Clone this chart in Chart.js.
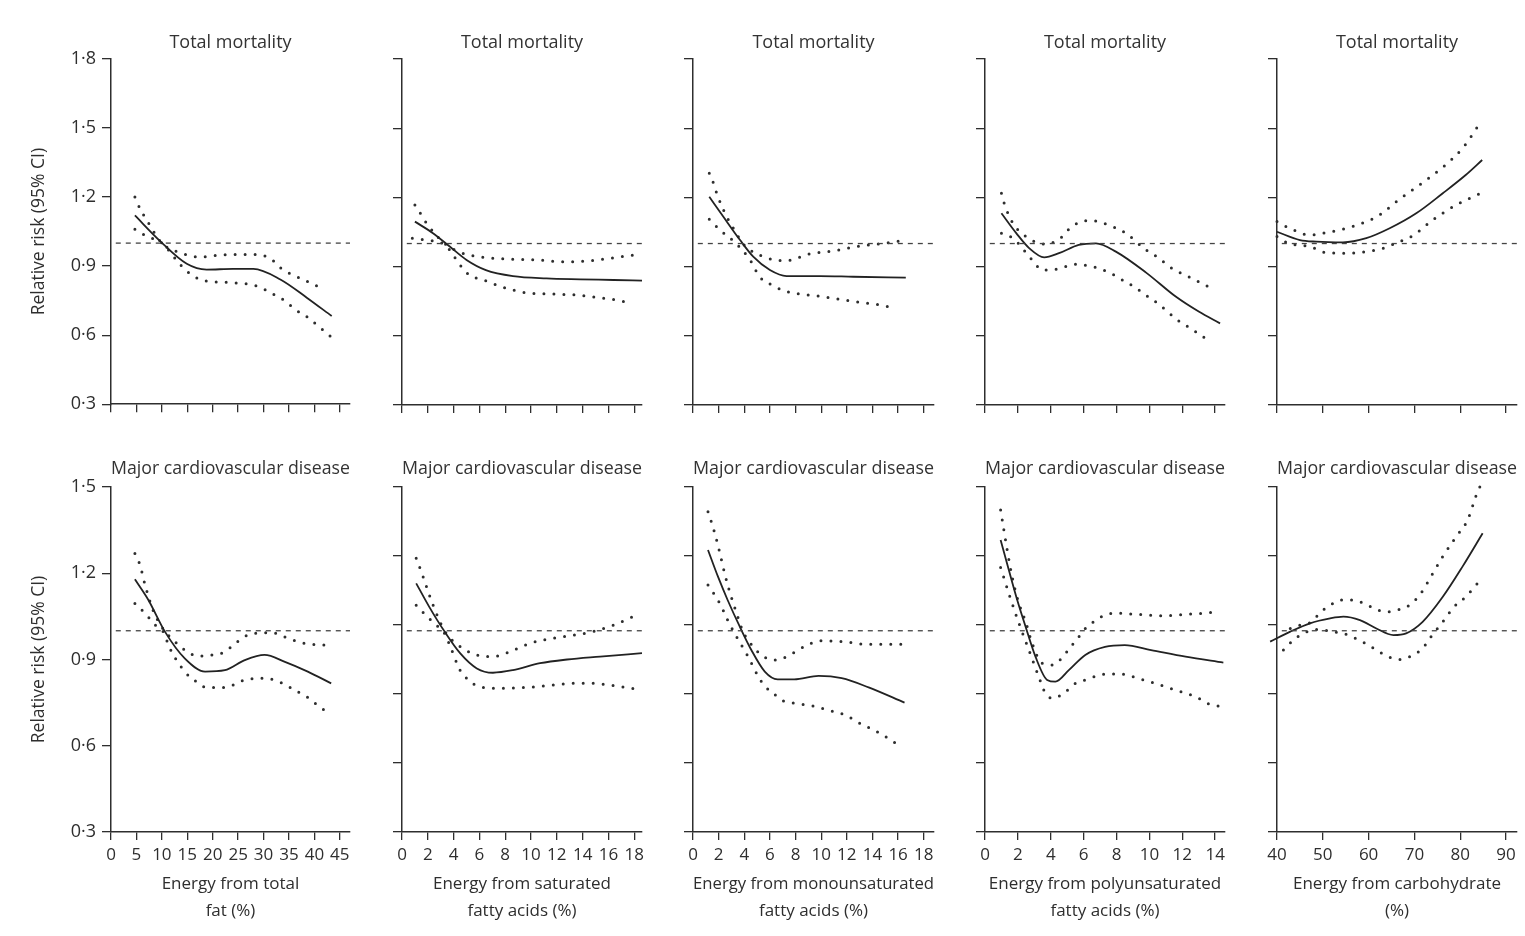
<!DOCTYPE html>
<html>
<head>
<meta charset="utf-8">
<title>Relative risk by energy source</title>
<script src="https://cdn.jsdelivr.net/npm/chart.js@4.4.1/dist/chart.umd.min.js"></script>
<style>
  body { margin: 0; background: #fff; width: 1525px; height: 936px; overflow: hidden; position: relative; }
  .panel { position: absolute; }
</style>
</head>
<body>
<script>
// ---- data: [energy %, relative risk] ----

const rowTitles = ["Total mortality", "Major cardiovascular disease"];
const yTitle = "Relative risk (95% CI)";
const refValue = 1.0;

// total fat
const fatMortRR = [[4.7,1.12],[9.6,1.01],[14.9,0.91],[18.8,0.885],[24,0.888],[28,0.888],[33.3,0.842],[38.5,0.763],[43.4,0.683]];
const fatMortHi = [[4.7,1.2],[5.7,1.15],[7.3,1.09],[10,1.0],[13.6,0.958],[17.5,0.94],[22.8,0.95],[28.7,0.95],[31.6,0.929],[33.3,0.893],[35.5,0.864],[37.8,0.842],[42.1,0.796]];
const fatMortLo = [[4.7,1.06],[7,1.03],[10,1.0],[13.9,0.9],[16.2,0.857],[18.8,0.835],[24,0.828],[28.7,0.813],[32,0.777],[34.3,0.748],[36.2,0.712],[38.8,0.676],[41.1,0.633],[43.1,0.596]];
const fatCvdRR = [[4.7,1.179],[7.35,1.107],[10.6,0.997],[14.5,0.904],[18.5,0.858],[22.4,0.863],[26.3,0.898],[30.2,0.916],[34.2,0.892],[38.7,0.858],[43.3,0.817]];
const fatCvdHi = [[4.7,1.269],[5.7,1.229],[6.7,1.159],[8.3,1.07],[10.5,1.0],[11.9,0.974],[14.5,0.933],[17.2,0.912],[20,0.916],[22.4,0.927],[24.4,0.956],[27.6,0.989],[31.6,0.993],[34.8,0.974],[38.1,0.956],[42.4,0.95]];
const fatCvdLo = [[4.7,1.095],[6.7,1.061],[8.7,1.02],[10.5,0.99],[11.3,0.95],[14.5,0.858],[16.8,0.823],[18.8,0.803],[22.4,0.803],[26.3,0.829],[30.2,0.835],[33.5,0.819],[36.1,0.794],[38.7,0.768],[41,0.736],[43.3,0.707]];

// saturated fatty acids
const satMortRR = [[1,1.095],[2.4,1.045],[3.7,0.987],[5,0.929],[6.5,0.885],[8.6,0.859],[11.2,0.849],[13.8,0.845],[16.4,0.842],[18.6,0.839]];
const satMortHi = [[1,1.167],[1.5,1.124],[1.9,1.088],[3.3,1.0],[4.6,0.96],[6.3,0.94],[8.6,0.932],[10.7,0.928],[12.5,0.921],[14.3,0.924],[16.1,0.936],[17.9,0.95]];
const satMortLo = [[0.8,1.023],[1.9,1.015],[3.3,0.995],[4.6,0.9],[5.2,0.864],[6.3,0.842],[8.1,0.806],[9.6,0.787],[11.7,0.781],[13.5,0.777],[15.1,0.767],[16.9,0.752],[17.9,0.737]];
const satCvdRR = [[1.1,1.165],[2.1,1.084],[3.3,0.997],[4.5,0.922],[5.8,0.869],[7.05,0.854],[8.6,0.863],[10.7,0.887],[12.8,0.9],[15.35,0.91],[18.6,0.922]];
const satCvdHi = [[1.1,1.252],[1.5,1.205],[1.9,1.153],[2.4,1.09],[3.3,1.0],[4.7,0.939],[5.8,0.916],[6.5,0.91],[7.35,0.912],[8.35,0.927],[9.9,0.956],[11.7,0.974],[13.3,0.985],[14.8,0.997],[16.4,1.02],[17.9,1.049]];
const satCvdLo = [[1.1,1.089],[1.7,1.061],[2.5,1.026],[3.3,0.99],[3.7,0.95],[4.5,0.863],[5.1,0.831],[6,0.805],[7.6,0.8],[9.65,0.803],[11.7,0.811],[13.3,0.817],[14.8,0.817],[16.4,0.809],[18.3,0.796]];

// monounsaturated fatty acids
const monoMortRR = [[1.27,1.203],[2.37,1.116],[3.67,1.015],[4.7,0.943],[6,0.885],[7.3,0.859],[9.9,0.859],[12.5,0.856],[16.6,0.852]];
const monoMortHi = [[1.27,1.305],[1.6,1.261],[1.85,1.218],[2.5,1.131],[3,1.08],[3.9,1.0],[4.45,0.972],[5.5,0.943],[6.4,0.929],[7.3,0.926],[9.1,0.955],[11,0.968],[12.8,0.987],[14.4,0.998],[16.2,1.011]];
const monoMortLo = [[1.27,1.105],[2.1,1.059],[3.3,1.004],[4.45,0.929],[5.2,0.856],[6.15,0.82],[7.05,0.796],[7.97,0.784],[9.66,0.773],[11.5,0.758],[13.2,0.744],[14.9,0.731],[15.9,0.715]];
const monoCvdRR = [[1.17,1.281],[1.95,1.188],[2.7,1.107],[3.65,1.014],[4.55,0.933],[5.6,0.858],[6.6,0.831],[7.9,0.831],[9.8,0.843],[11.6,0.835],[13.7,0.803],[16.5,0.75]];
const monoCvdHi = [[1.17,1.414],[1.43,1.379],[1.7,1.339],[2.1,1.269],[2.5,1.194],[2.9,1.13],[3.4,1.061],[3.9,0.997],[4.7,0.944],[5.5,0.91],[6.4,0.898],[7.3,0.91],[8.2,0.933],[9.1,0.954],[10,0.965],[11.85,0.962],[13.4,0.953],[15.1,0.953],[16.3,0.953]];
const monoCvdLo = [[1.17,1.159],[1.7,1.124],[2.2,1.086],[2.7,1.037],[3.4,0.979],[4.3,0.91],[5.1,0.84],[5.6,0.808],[6.4,0.777],[7,0.757],[7.9,0.748],[9.6,0.736],[10.5,0.724],[11.5,0.713],[12.2,0.699],[13.1,0.676],[14.1,0.655],[15,0.632],[15.9,0.606]];

// polyunsaturated fatty acids
const polyMortRR = [[1,1.131],[1.9,1.045],[2.7,0.979],[3.6,0.94],[4.5,0.958],[5.7,0.994],[6.75,1.001],[7.96,0.965],[9.8,0.874],[11.6,0.77],[13,0.705],[14.3,0.654]];
const polyMortHi = [[1,1.218],[1.2,1.167],[1.7,1.088],[2.5,1.03],[3.6,0.998],[4.5,1.018],[5.1,1.062],[5.7,1.091],[6.4,1.1],[7.1,1.091],[7.85,1.071],[8.56,1.045],[9.8,0.972],[10.6,0.936],[11.2,0.9],[12.6,0.849],[13.9,0.802]];
const polyMortLo = [[1,1.045],[1.7,1.023],[2.9,0.926],[3.5,0.885],[4.3,0.888],[4.9,0.9],[5.6,0.911],[6.3,0.903],[6.9,0.893],[7.66,0.871],[8.36,0.842],[9.06,0.813],[9.77,0.777],[10.5,0.741],[11.1,0.705],[11.7,0.669],[12.4,0.637],[13.1,0.604],[13.8,0.568]];
const polyCvdRR = [[0.95,1.316],[1.45,1.211],[1.96,1.107],[2.47,1.014],[3.07,0.91],[3.78,0.829],[4.28,0.823],[5.1,0.863],[6.1,0.916],[7.3,0.944],[8.5,0.95],[10.1,0.933],[12.2,0.91],[14.5,0.889]];
const polyCvdHi = [[0.95,1.42],[1.15,1.35],[1.35,1.281],[1.65,1.188],[2,1.107],[2.5,1.026],[2.87,0.956],[3.47,0.887],[4.1,0.881],[4.75,0.91],[5.2,0.944],[5.6,0.97],[6,1.002],[6.6,1.031],[7.3,1.055],[8,1.061],[9.3,1.057],[10.75,1.052],[12.2,1.057],[13.4,1.061],[14.1,1.066]];
const polyCvdLo = [[0.95,1.22],[1.45,1.13],[1.96,1.043],[2.67,0.933],[3.27,0.84],[3.68,0.782],[4.1,0.765],[4.9,0.788],[5.5,0.817],[6.1,0.829],[6.8,0.843],[7.5,0.85],[8.2,0.85],[8.8,0.843],[9.5,0.831],[10.35,0.817],[11,0.805],[11.75,0.791],[12.3,0.782],[13,0.765],[13.5,0.748],[14.4,0.736]];

// carbohydrate
const carbMortRR = [[40,1.051],[45,1.015],[48.6,1.008],[54.4,1.005],[59.5,1.023],[64.6,1.066],[70.4,1.131],[76.2,1.218],[81.2,1.297],[84.8,1.362]];
const carbMortHi = [[40,1.095],[42.8,1.066],[47.2,1.037],[50,1.045],[55.1,1.066],[59.5,1.095],[62.4,1.124],[66.7,1.192],[71.8,1.264],[76.5,1.336],[80.5,1.413],[84.8,1.536]];
const carbMortLo = [[40,1.03],[42.5,1.001],[47.2,0.987],[50.8,0.96],[55.1,0.958],[59.5,0.965],[63.1,0.979],[66.7,1.008],[69.6,1.033],[74,1.102],[79.1,1.167],[84.5,1.218]];
const carbCvdRR = [[38.5,0.962],[42.9,0.997],[47.2,1.026],[51.6,1.043],[54.5,1.049],[58.1,1.037],[61.7,1.008],[65.4,0.985],[68.2,0.991],[71.8,1.031],[76.2,1.118],[80.5,1.223],[84.9,1.339]];
const carbCvdHi = [[42.9,1.008],[45.1,1.02],[47.5,1.031],[49.3,1.061],[51.6,1.089],[54.2,1.107],[56.7,1.107],[59.3,1.093],[61.7,1.074],[63.8,1.066],[66.3,1.072],[68.9,1.089],[71.4,1.13],[73.6,1.188],[76.2,1.258],[79.1,1.327],[81.6,1.385],[83.8,1.484],[84.9,1.518]];
const carbCvdLo = [[41.4,0.933],[43.2,0.962],[45.7,0.991],[49.3,1.005],[51.9,0.997],[54.5,0.991],[56.7,0.977],[59.3,0.956],[61.7,0.933],[64.2,0.91],[66.7,0.9],[69.3,0.912],[71.8,0.939],[73.6,0.979],[76.2,1.031],[78.7,1.084],[81.2,1.118],[83.8,1.165]];

// axes per column
const xTitles = [
  ["Energy from total", "fat (%)"],
  ["Energy from saturated", "fatty acids (%)"],
  ["Energy from monounsaturated", "fatty acids (%)"],
  ["Energy from polyunsaturated", "fatty acids (%)"],
  ["Energy from carbohydrate", "(%)"]
];
const xMins = [0, 0, 0, 0, 40];
const xMaxs = [47, 18.6, 18.8, 14.6, 92.4];
const xSteps = [5, 2, 2, 2, 10];

const mortSeries = [
  [fatMortRR, fatMortHi, fatMortLo],
  [satMortRR, satMortHi, satMortLo],
  [monoMortRR, monoMortHi, monoMortLo],
  [polyMortRR, polyMortHi, polyMortLo],
  [carbMortRR, carbMortHi, carbMortLo]
];
const cvdSeries = [
  [fatCvdRR, fatCvdHi, fatCvdLo],
  [satCvdRR, satCvdHi, satCvdLo],
  [monoCvdRR, monoCvdHi, monoCvdLo],
  [polyCvdRR, polyCvdHi, polyCvdLo],
  [carbCvdRR, carbCvdHi, carbCvdLo]
];

// ---- layout (page pixels of each plot area) ----
const colLeft = [111, 402, 693, 985, 1277];
const colRight = [350, 642, 934, 1225, 1517];
const rowTop = [59, 487];
const rowBottom = [405, 832];
const rowTitlePadTop = [7, 7];
const rowTitleGap = [5, 7];
const rowXHeight = [16, 92];

const ink = '#2e2e2e';
Chart.defaults.font.family = "'Open Sans', 'DejaVu Sans', sans-serif";
Chart.defaults.color = ink;

const toPts = arr => arr.map(p => ({x: p[0], y: p[1]}));
const fmt = v => v.toFixed(1).replace('.', '\u00b7');

function makePanel(ci, ri) {
  const yW = ci === 0 ? 82 : 20;
  const padR = ci === 4 ? 6 : 12;
  const titleH = rowTitlePadTop[ri] + 22 + rowTitleGap[ri];
  const left = colLeft[ci] - yW;
  const top = rowTop[ri] - titleH;
  const width = yW + (colRight[ci] - colLeft[ci]) + padR;
  const height = titleH + (rowBottom[ri] - rowTop[ri]) + rowXHeight[ri];

  const box = document.createElement('div');
  box.className = 'panel';
  box.style.left = left + 'px';
  box.style.top = top + 'px';
  box.style.width = width + 'px';
  box.style.height = height + 'px';
  const cv = document.createElement('canvas');
  box.appendChild(cv);
  document.body.appendChild(box);

  const series = ri === 0 ? mortSeries[ci] : cvdSeries[ci];
  const span = xMaxs[ci] - xMins[ci];
  const refPts = [{x: xMins[ci] + span * 0.02, y: refValue}, {x: xMaxs[ci], y: refValue}];

  const dotted = {
    borderColor: ink, borderWidth: 3, borderDash: [0, 10], borderCapStyle: 'round',
    pointRadius: 0, cubicInterpolationMode: 'monotone', clip: false
  };

  new Chart(cv, {
    type: 'line',
    data: {
      datasets: [
        { data: refPts, borderColor: '#444', borderWidth: 1.3, borderDash: [5, 5], pointRadius: 0, clip: false },
        { data: toPts(series[0]), borderColor: '#222', borderWidth: 1.8, pointRadius: 0,
          cubicInterpolationMode: 'monotone', clip: false },
        Object.assign({ data: toPts(series[1]) }, dotted),
        Object.assign({ data: toPts(series[2]) }, dotted)
      ]
    },
    options: {
      responsive: true,
      maintainAspectRatio: false,
      devicePixelRatio: 1,
      animation: false,
      events: [],
      layout: { padding: { left: 0, top: 0, bottom: 0, right: padR } },
      plugins: {
        legend: { display: false },
        tooltip: { enabled: false },
        title: {
          display: true,
          text: rowTitles[ri],
          fullSize: false,
          color: '#333',
          font: { size: 18, weight: 'normal', lineHeight: 22 / 18 },
          padding: { top: rowTitlePadTop[ri], bottom: rowTitleGap[ri] }
        }
      },
      scales: {
        x: {
          type: 'linear',
          min: xMins[ci],
          max: xMaxs[ci],
          border: { display: true, color: ink, width: 1.5 },
          grid: { drawOnChartArea: false, drawTicks: true, tickLength: 8, color: ink, lineWidth: 1.3 },
          ticks: {
            display: ri === 1,
            stepSize: xSteps[ci],
            includeBounds: false,
            autoSkip: false,
            maxRotation: 0,
            padding: 5,
            font: { size: 17 }
          },
          title: {
            display: ri === 1,
            text: xTitles[ci],
            padding: 0,
            font: { size: 17, lineHeight: 1.55 }
          },
          afterFit: s => { s.height = rowXHeight[ri]; }
        },
        y: {
          type: 'linear',
          min: 0.3,
          max: ri === 0 ? 1.8 : 1.5,
          border: { display: true, color: ink, width: 1.5 },
          grid: { drawOnChartArea: false, drawTicks: true, tickLength: 9, color: ink, lineWidth: 1.3 },
          ticks: {
            display: ci === 0,
            stepSize: (ri === 1 && ci > 0) ? 0.24 : 0.3,
            includeBounds: false,
            padding: 6,
            font: { size: 18 },
            callback: v => fmt(v)
          },
          title: {
            display: ci === 0,
            text: yTitle,
            padding: 0,
            font: { size: 17.5 }
          },
          afterFit: s => { s.width = yW; }
        }
      }
    }
  });
}

for (let ri = 0; ri < 2; ri++) {
  for (let ci = 0; ci < 5; ci++) {
    makePanel(ci, ri);
  }
}
</script>
</body>
</html>
